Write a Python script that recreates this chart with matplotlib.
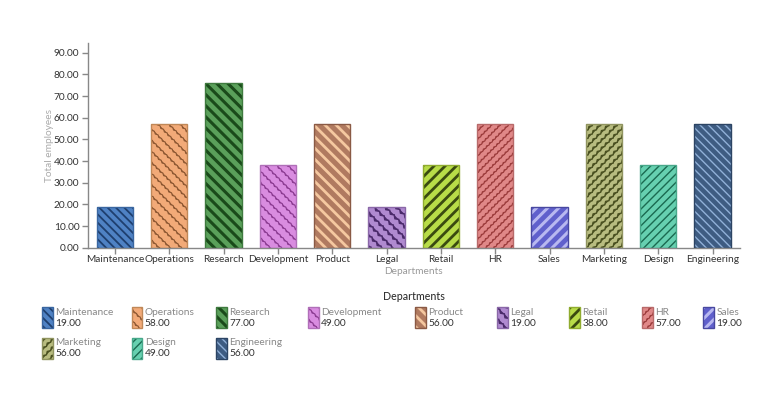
import warnings
import numpy as np
import matplotlib
matplotlib.use("Agg")
import matplotlib.pyplot as plt
import matplotlib.hatch as mhatch
from matplotlib.path import Path
from matplotlib.patches import Rectangle

warnings.filterwarnings("ignore")
plt.rcParams['font.family'] = ['Lato', 'DejaVu Sans']

# ---------------- data ----------------
departments = ["Maintenance", "Operations", "Research", "Development", "Product",
               "Legal", "Retail", "HR", "Sales", "Marketing", "Design", "Engineering"]
bar_values = [19, 57, 76, 38, 57, 19, 38, 57, 19, 57, 38, 57]
legend_values = [19, 58, 77, 49, 56, 19, 38, 57, 19, 56, 49, 56]
y_ticks = [0, 10, 20, 30, 40, 50, 60, 70, 80, 90]

# ---------------- styles ----------------
fills = ["#4f82c4", "#f2aa78", "#5aa05a", "#d98ce0", "#b07a60", "#b08ad0",
         "#b8dc48", "#e08888", "#6060cc", "#b8bc80", "#66d0b0", "#3e5c82"]
stripe_colors = ["#1f3f6e", "#8a5530", "#1a4a1a", "#8a3a90", "#f5c8a0", "#4a2a6a",
                 "#3a4a10", "#9a3a3a", "#b8b8f0", "#4a5020", "#1a6a50", "#90b0d8"]
edge_colors = ["#3a66a0", "#c08858", "#3f7a3f", "#b070b8", "#8a5a45", "#8a68a8",
               "#90ac30", "#b86a6a", "#4848a0", "#909460", "#48a88a", "#2c4464"]
# custom hatches: w = wavy "\", W = staircase "\", M = staircase "/", h = fine zigzag "/"
hatches = ["\\" * 4, "w" * 3, "\\" * 3, "w" * 3, "\\" * 3, "W" * 3,
           "/" * 3, "h" * 4, "/" * 3, "M" * 4, "/" * 4, "\\" * 4]
hatch_lws = [1.3, 0.8, 2.2, 0.8, 2.0, 1.1, 2.0, 0.8, 2.2, 1.0, 1.0, 1.0]


def make_wavy(char, se, periods, amp):
    class _Wavy(mhatch.HatchPatternBase):
        def __init__(self, hatch, density):
            self.num_lines = int(hatch.count(char) * density)
            self.npts = 2 * periods + 1
            self.num_vertices = (self.num_lines + 1) * self.npts if self.num_lines else 0

        def set_vertices_and_codes(self, vertices, codes):
            steps = np.linspace(-0.5, 0.5, self.num_lines + 1)
            t = np.linspace(0.0, 1.0, self.npts)
            off = amp * np.where(np.arange(self.npts) % 2 == 0, 1.0, -1.0)
            k = 1 / np.sqrt(2)
            for i, s in enumerate(steps):
                sl = slice(i * self.npts, (i + 1) * self.npts)
                if se:
                    vertices[sl, 0] = s + t + off * k
                    vertices[sl, 1] = 1 + s - t + off * k
                else:
                    vertices[sl, 0] = s + t + off * k
                    vertices[sl, 1] = -s + t - off * k
                codes[sl] = Path.LINETO
                codes[i * self.npts] = Path.MOVETO
    return _Wavy


mhatch._hatch_types.append(make_wavy("w", True, 28, 0.0065))
mhatch._hatch_types.append(make_wavy("W", True, 22, 0.011))
mhatch._hatch_types.append(make_wavy("M", False, 24, 0.009))
mhatch._hatch_types.append(make_wavy("h", False, 32, 0.006))

W, H = 781, 400
fig = plt.figure(figsize=(W / 100, H / 100), dpi=100)
ax = fig.add_axes([87.7 / W, 1 - 247.7 / H, (739.7 - 87.7) / W, (247.7 - 42.7) / H])

x = list(range(len(departments)))


def set_hlw(p, lw):
    try:
        p.set_hatch_linewidth(lw)
    except AttributeError:
        plt.rcParams['hatch.linewidth'] = lw


for i, (xi, v) in enumerate(zip(x, bar_values)):
    plt.rcParams['hatch.linewidth'] = hatch_lws[i]
    b = ax.bar(xi, v, width=0.67, color=fills[i], edgecolor=stripe_colors[i],
               linewidth=0, hatch=hatches[i], zorder=2)
    for p in b:
        set_hlw(p, hatch_lws[i])
    ax.bar(xi, v, width=0.67, fill=False, edgecolor=edge_colors[i],
           linewidth=1.0, zorder=3)

ax.set_xlim(-0.5, len(departments) - 0.5)
ax.set_ylim(0, 94.6)
ax.set_yticks(y_ticks)
ax.set_yticklabels([f"{t:.2f}" for t in y_ticks])
ax.set_xticks(x)
ax.set_xticklabels(departments)

axis_gray = "#888888"
fs = 7.3
for s in ["top", "right"]:
    ax.spines[s].set_visible(False)
for s in ["left", "bottom"]:
    ax.spines[s].set_color(axis_gray)
    ax.spines[s].set_linewidth(1.0)
ax.tick_params(axis="both", colors=axis_gray, labelcolor="#333333", labelsize=fs,
               length=4, width=1, pad=2)
ax.tick_params(axis="x", pad=1.5)

ax.set_ylabel("Total employees", color="#aaaaaa", fontsize=fs)
ax.yaxis.set_label_coords(-0.052, 0.5)
ax.set_xlabel("Departments", color="#999999", fontsize=fs, labelpad=2)

# ---------------- legend ----------------
fig.text(413.5 / W, 1 - 296 / H, "Departments", ha="center", va="center",
         color="#333333", fontsize=7.7, fontweight="medium")

col_left_px = [42.3, 131.7, 216.0, 308.3, 415.0, 497.3, 569.3, 642.3, 703.3]
row_top_px = [307.3, 337.5]
sw_w, sw_h = 10.5, 21.0
ncol = len(col_left_px)
for i, name in enumerate(departments):
    r, c = divmod(i, ncol)
    lx = col_left_px[c]
    ty = row_top_px[r]
    plt.rcParams['hatch.linewidth'] = hatch_lws[i]
    rect = Rectangle((lx / W, 1 - (ty + sw_h) / H), sw_w / W, sw_h / H,
                     transform=fig.transFigure, facecolor=fills[i],
                     edgecolor=stripe_colors[i], linewidth=0, hatch=hatches[i])
    set_hlw(rect, hatch_lws[i])
    fig.add_artist(rect)
    fig.add_artist(Rectangle((lx / W, 1 - (ty + sw_h) / H), sw_w / W, sw_h / H,
                             transform=fig.transFigure, fill=False,
                             edgecolor=edge_colors[i], linewidth=1.0))
    fig.text((lx + 13) / W, 1 - (ty + 5.0) / H, name, ha="left", va="center",
             color="#888888", fontsize=fs)
    fig.text((lx + 13) / W, 1 - (ty + 16) / H, f"{legend_values[i]:.2f}",
             ha="left", va="center", color="#333333", fontsize=fs)

fig.savefig("out.png", dpi=100)
